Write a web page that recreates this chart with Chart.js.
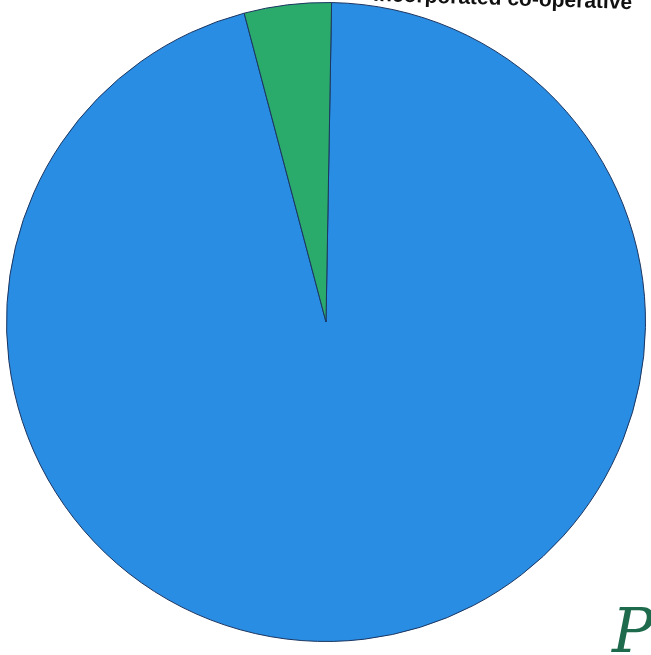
<!DOCTYPE html>
<html lang="en">
<head>
    <meta charset="UTF-8">
    <title>Pie chart</title>
    <style>
        html, body {
            margin: 0;
            padding: 0;
            background: #fff;
            overflow: hidden;
        }
        .chart-box {
            position: relative;
            width: 651px;
            height: 655px;
        }
    </style>
</head>
<body>
    <div class="chart-box">
        <canvas id="chart" width="651" height="655"></canvas>
    </div>

    <script src="https://cdn.jsdelivr.net/npm/chart.js"></script>
    <script>
        // data
        const categories = ['Other', 'Incorporated co-operative'];
        const shares = [95.6, 4.4];
        const sliceColors = ['#2a8de4', '#2aab6c'];
        const captionText = 'Incorporated co-operative';
        const noteText = 'Po';

        // draws the clipped caption at the top and the scribble at the bottom right
        const extraText = {
            id: 'extraText',
            afterDraw(chart) {
                const c = chart.ctx;
                c.save();
                c.translate(632, 9);
                c.rotate(1.8 * Math.PI / 180);
                c.fillStyle = '#111';
                c.font = 'bold 21px "Liberation Sans", Arial, sans-serif';
                c.textAlign = 'right';
                c.textBaseline = 'alphabetic';
                c.fillText(captionText, 0, 0);
                c.restore();

                c.save();
                c.fillStyle = '#1d6a4c';
                c.font = 'italic 62px "DejaVu Serif", serif';
                c.textAlign = 'left';
                c.fillText(noteText, 612, 652);
                c.restore();
            }
        };

        const ctx = document.getElementById('chart').getContext('2d');
        new Chart(ctx, {
            type: 'pie',
            data: {
                labels: categories,
                datasets: [{
                    data: shares,
                    backgroundColor: sliceColors,
                    borderColor: '#1b3560',
                    borderWidth: 1
                }]
            },
            options: {
                responsive: false,
                animation: false,
                rotation: 1,
                layout: {
                    padding: { left: 6, right: 5, top: 2, bottom: 13 }
                },
                plugins: {
                    legend: { display: false },
                    tooltip: { enabled: false }
                }
            },
            plugins: [extraText]
        });
    </script>
</body>
</html>
